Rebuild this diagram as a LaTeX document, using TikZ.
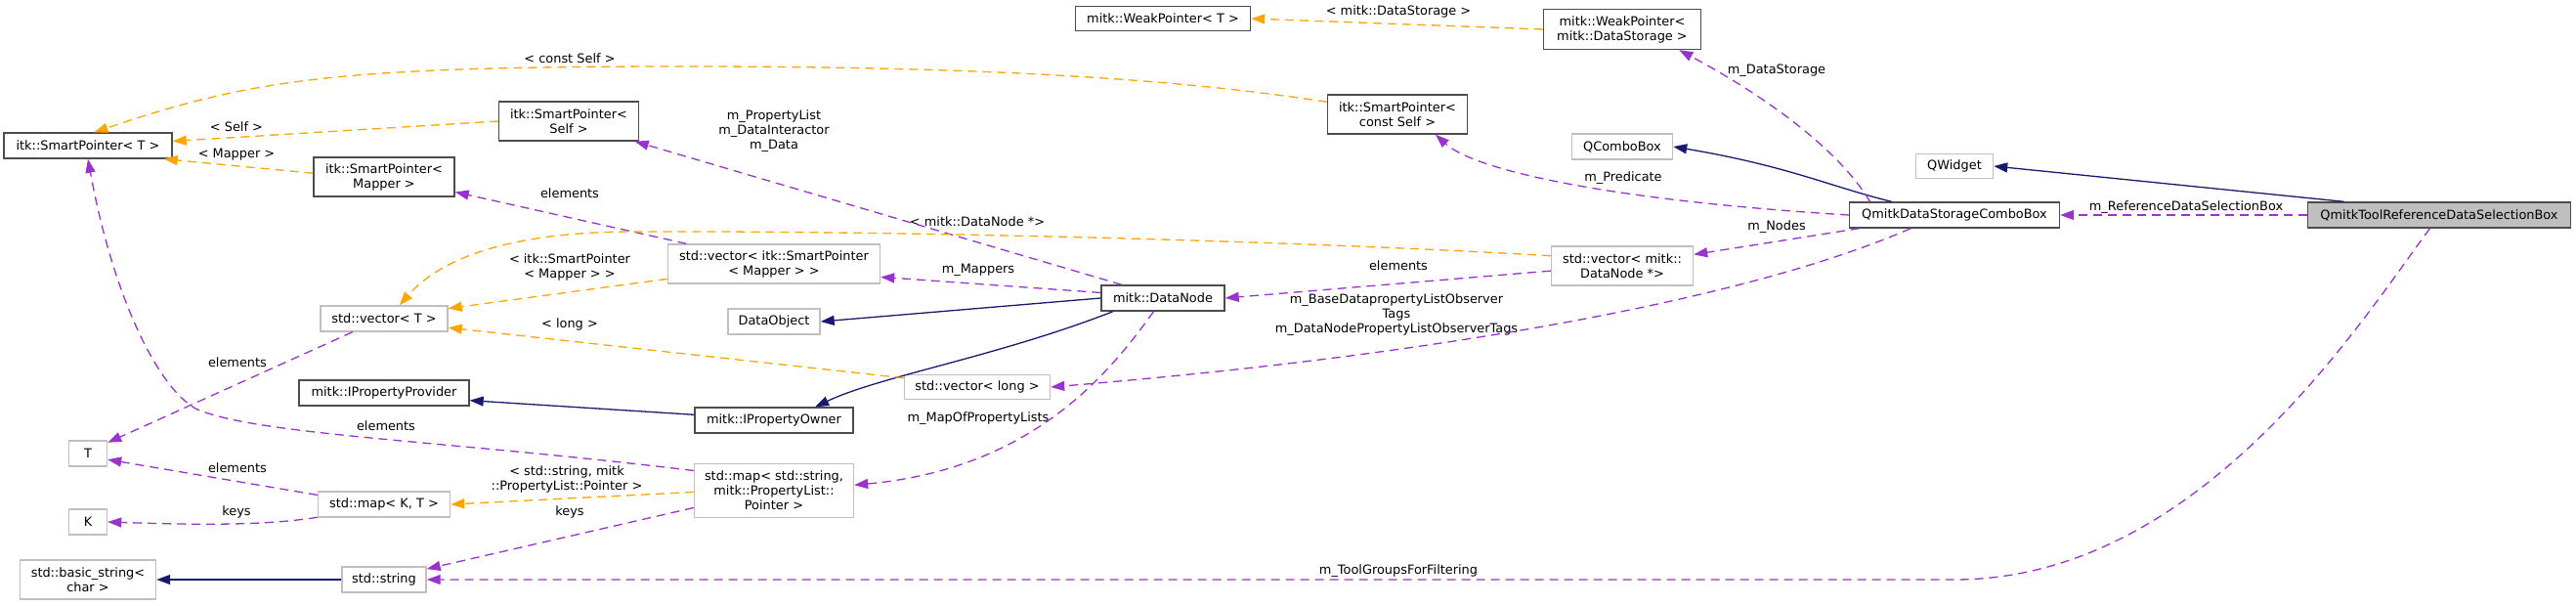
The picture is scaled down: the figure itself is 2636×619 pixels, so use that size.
\documentclass[tikz,border=0pt]{standalone}
\usepackage{fontspec}
\setmainfont{DejaVu Sans}
\usetikzlibrary{arrows.meta}
\definecolor{midblue}{HTML}{191970}
\definecolor{orchid}{HTML}{9A32CD}
\definecolor{tplorange}{HTML}{FFA500}
\tikzstyle{every node}=[font=\fontsize{12.9}{15}\selectfont,align=center,inner sep=0pt]
\tikzstyle{cls}=[draw=black!70,line width=1.4,minimum height=26]
\tikzstyle{ext}=[draw=gray!50,line width=1.4,minimum height=26]
\tikzstyle{focus}=[cls,fill=gray!50]
\tikzstyle{inherit}=[draw=midblue,line width=1.3,-{Triangle[length=14pt,width=10pt]}]
\tikzstyle{member}=[draw=orchid,line width=1.3,dash pattern=on 9pt off 6pt,-{Triangle[length=14pt,width=10pt]}]
\tikzstyle{tpl}=[draw=tplorange,line width=1.3,dash pattern=on 9pt off 6pt,-{Triangle[length=14pt,width=10pt]}]

\begin{document}
\begin{tikzpicture}[%
        x=1pt,y=-1pt]
    \useasboundingbox (0,0) rectangle (2636,619);
    \node[cls,minimum width=172] (spT) at (90,149) {itk::SmartPointer< T >};
    \node[cls,minimum width=143,minimum height=40] (spSelf) at (582,124) {itk::SmartPointer<\\Self >};
    \node[cls,minimum width=144,minimum height=40] (spMapper) at (393,181) {itk::SmartPointer<\\Mapper >};
    \node[ext,minimum width=130] (vecT) at (393,326) {std::vector< T >};
    \node[cls,minimum width=174] (propProvider) at (393,402) {mitk::IPropertyProvider};
    \node[ext,minimum width=39] (tT) at (90,464) {T};
    \node[ext,minimum width=135] (mapKT) at (393,516) {std::map< K, T >};
    \node[ext,minimum width=39] (tK) at (90,534) {K};
    \node[ext,minimum width=139,minimum height=40] (basicStr) at (90,593) {std::basic\_string<\\char >};
    \node[ext,minimum width=86] (stdStr) at (393,593) {std::string};
    \node[cls,minimum width=179,minimum height=25] (weakT) at (1190,19) {mitk::WeakPointer< T >};
    \node[ext,minimum width=217,minimum height=40] (vecMapper) at (792,270) {std::vector< itk::SmartPointer\\< Mapper > >};
    \node[cls,minimum width=126] (dataNode) at (1190,305) {mitk::DataNode};
    \node[ext,minimum width=94] (dataObj) at (792,329) {DataObject};
    \node[ext,minimum width=149,minimum height=25] (vecLong) at (1000,396) {std::vector< long >};
    \node[cls,minimum width=162] (propOwner) at (792,430) {mitk::IPropertyOwner};
    \node[ext,minimum width=163,minimum height=55] (mapProp) at (792,502) {std::map< std::string,\\mitk::PropertyList::\\Pointer >};
    \node[cls,minimum width=161,minimum height=41] (weakStorage) at (1660,30) {mitk::WeakPointer<\\mitk::DataStorage >};
    \node[cls,minimum width=143,minimum height=40] (spConstSelf) at (1430,117) {itk::SmartPointer<\\const Self >};
    \node[ext,minimum width=103] (qCombo) at (1660,150) {QComboBox};
    \node[cls,minimum width=215] (storageCombo) at (2000,220) {QmitkDataStorageComboBox};
    \node[ext,minimum width=145,minimum height=40] (vecNode) at (1660,272) {std::vector< mitk::\\DataNode *>};
    \node[ext,minimum width=79,minimum height=25] (qWidget) at (2000,170) {QWidget};
    \node[focus,minimum width=269] (toolBox) at (2496,220) {QmitkToolReferenceDataSelectionBox};

    \node (lRefBox) at (2237,212) {m\_ReferenceDataSelectionBox};
    \node (lToolGroups) at (1431,584) {m\_ToolGroupsForFiltering};
    \node (lStorage) at (1818,72) {m\_DataStorage};
    \node (lPredicate) at (1661,182) {m\_Predicate};
    \node (lNodes) at (1818,232) {m\_Nodes};
    \node (lObserver) at (1429,322) {m\_BaseDatapropertyListObserver\\Tags\\m\_DataNodePropertyListObserverTags};
    \node (lElemNode) at (1431,272) {elements};
    \node (lProps) at (792,134) {m\_PropertyList\\m\_DataInteractor\\m\_Data};
    \node (lMappers) at (1001,276) {m\_Mappers};
    \node (lMapLists) at (1001,428) {m\_MapOfPropertyLists};
    \node (lElemMapper) at (583,198) {elements};
    \node (lElemSpT) at (395,436) {elements};
    \node (lKeysStr) at (583,524) {keys};
    \node (lElemVecT) at (243,371) {elements};
    \node (lElemMapKT) at (243,479) {elements};
    \node (lKeysK) at (242,524) {keys};
    \node (lDataStorage) at (1431,12) {< mitk::DataStorage >};
    \node (lConstSelf) at (583,60) {< const Self >};
    \node (lSelf) at (242,130) {< Self >};
    \node (lMapper) at (242,158) {< Mapper >};
    \node (lNodePtr) at (1000,227) {< mitk::DataNode *>};
    \node (lSpMapper) at (583,273) {< itk::SmartPointer\\< Mapper > >};
    \node (lLong) at (583,332) {< long >};
    \node (lPropPtr) at (580,490) {< std::string, mitk\\::PropertyList::Pointer >};

    \draw[inherit] (toolBox.172) -- (qWidget.east);
    \draw[inherit] (storageCombo.168) .. controls (1870,190) and (1830,170) .. (qCombo.east);
    \draw[inherit] (dataNode.west) -- (dataObj.east);
    \draw[inherit] (dataNode.195) .. controls (1020,365) and (900,385) .. (propOwner.18);
    \draw[inherit] (propOwner.176) -- (propProvider.-5);
    \draw[inherit] (stdStr.west) -- (basicStr.east);

    \draw[member] (toolBox.west) -- (storageCombo.east);
    \draw[member] (toolBox.235) .. controls (2415,330) and (2250,593) .. (2000,593) -- (stdStr.east);
    \draw[member] (storageCombo.171) .. controls (1880,150) and (1800,95) .. (weakStorage.-20);
    \draw[member] (storageCombo.west) .. controls (1650,205) and (1510,175) .. (spConstSelf.-28);
    \draw[member] (storageCombo.188) -- (vecNode.9);
    \draw[member] (storageCombo.197) .. controls (1780,310) and (1450,365) .. (vecLong.east);
    \draw[member] (vecNode.184) -- (dataNode.east);
    \draw[member] (dataNode.162) -- (spSelf.-17);
    \draw[member] (dataNode.175) -- (vecMapper.-7);
    \draw[member] (dataNode.235) .. controls (1130,390) and (1050,480) .. (mapProp.4);
    \draw[member] (vecMapper.167) -- (spMapper.-12);
    \draw[member] (mapProp.166) .. controls (450,450) and (260,445) .. (200,418) .. controls (160,395) and (115,300) .. (spT.south);
    \draw[member] (mapProp.192) -- (stdStr.14);
    \draw[member] (vecT.203) -- (tT.29);
    \draw[member] (mapKT.172) -- (tT.-17);
    \draw[member] (mapKT.191) .. controls (270,538) and (200,537) .. (tK.east);

    \draw[tpl] (weakStorage.west) -- (weakT.east);
    \draw[tpl] (spConstSelf.170) .. controls (1200,80) and (1000,68) .. (700,68) .. controls (350,68) and (260,80) .. (spT.65);
    \draw[tpl] (spSelf.west) -- (spT.3);
    \draw[tpl] (spMapper.177) -- (spT.-10);
    \draw[tpl] (vecNode.172) .. controls (1300,245) and (900,236) .. (650,237) .. controls (520,237) and (450,265) .. (vecT.41);
    \draw[tpl] (vecMapper.188) -- (vecT.9);
    \draw[tpl] (vecLong.173) -- (vecT.-8);
    \draw[tpl] (mapProp.181) -- (mapKT.east);
\end{tikzpicture}
\end{document}
